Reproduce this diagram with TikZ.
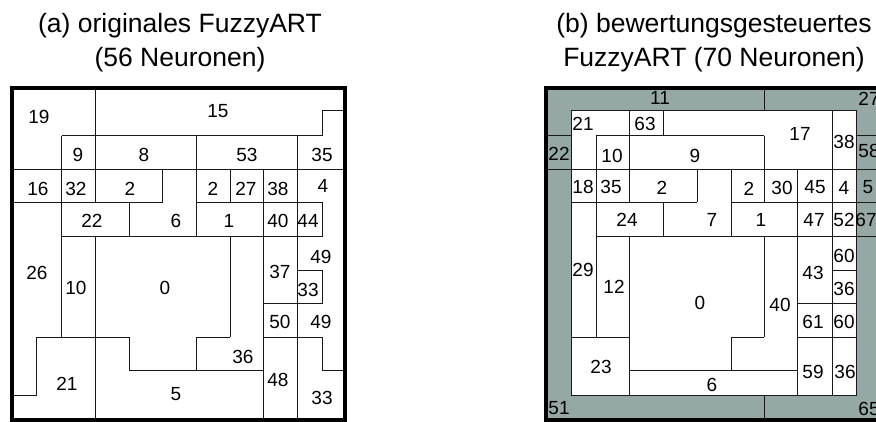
\documentclass[tikz,border=0pt]{standalone}
\usepackage{fontspec}
\setmainfont{Liberation Sans}
\definecolor{ringgray}{RGB}{150,168,165}
\begin{document}
\begin{tikzpicture}[x=1pt,y=-1pt,
  cellline/.style={line width=1pt, black!90},
  frame/.style={line width=4pt, black},
  lbl/.style={inner sep=0pt, font=\fontsize{19}{21}\selectfont},
  ttl/.style={inner sep=0pt, anchor=base, font=\fontsize{26.5}{30}\selectfont}]
\useasboundingbox (0,0) rectangle (876,421);
\foreach \i/\xx in {0/11.5,1/36.7,2/61.7,3/95.3,4/129,5/162.7,6/196.7,7/230,8/263.5,9/297.7,10/322.3,11/344.8}{
  \foreach \j/\yy in {0/87.5,1/110.3,2/135.7,3/169,4/202.3,5/236.5,6/270,7/303.5,8/337.3,9/370.7,10/395.7,11/419.5}{
    \coordinate (L\i-\j) at (\xx,\yy);
    \coordinate (R\i-\j) at (\xx+534.3,\yy);
  }
}
% titles
\node[ttl] (ta1) at (180,32.5) {(a) originales FuzzyART};
\node[ttl] (ta2) at (180,66) {(56 Neuronen)};
\node[ttl] (tb1) at (714,32.5) {(b) bewertungsgesteuertes};
\node[ttl] (tb2) at (714,66) {FuzzyART (70 Neuronen)};

% ---------- left panel ----------
\draw[cellline] (L10-1) -- (L11-1);
\draw[cellline] (L2-2) -- (L10-2);
\draw[cellline] (L0-3) -- (L11-3);
\draw[cellline] (L0-4) -- (L5-4) (L6-4) -- (L10-4);
\draw[cellline] (L2-5) -- (L10-5);
\draw[cellline] (L9-6) -- (L10-6);
\draw[cellline] (L8-7) -- (L10-7);
\draw[cellline] (L1-8) -- (L4-8) (L6-8) -- (L7-8) (L8-8) -- (L10-8);
\draw[cellline] (L4-9) -- (L8-9) (L10-9) -- (L11-9);
\draw[cellline] (L0-10) -- (L1-10);
\draw[cellline] (L1-8) -- (L1-10);
\draw[cellline] (L2-2) -- (L2-8);
\draw[cellline] (L3-0) -- (L3-4) (L3-5) -- (L3-11);
\draw[cellline] (L4-4) -- (L4-5) (L4-8) -- (L4-9);
\draw[cellline] (L5-3) -- (L5-4);
\draw[cellline] (L6-2) -- (L6-5) (L6-8) -- (L6-9);
\draw[cellline] (L7-3) -- (L7-4) (L7-5) -- (L7-8);
\draw[cellline] (L8-3) -- (L8-11);
\draw[cellline] (L9-2) -- (L9-11);
\draw[cellline] (L10-1) -- (L10-2) (L10-4) -- (L10-5) (L10-6) -- (L10-7) (L10-8) -- (L10-9);
\draw[frame] (L0-0) rectangle (L11-11);

\node[lbl] (a19) at (39,116.5) {19};
\node[lbl] (a15) at (218,111.5) {15};
\node[lbl] (a9) at (78,155) {9};
\node[lbl] (a8) at (144,155) {8};
\node[lbl] (a53) at (247,155) {53};
\node[lbl] (a35) at (322,155) {35};
\node[lbl] (a16) at (38,188.5) {16};
\node[lbl] (a32) at (76,188.5) {32};
\node[lbl] (a2a) at (130,188.5) {2};
\node[lbl] (a2b) at (213,188.5) {2};
\node[lbl] (a27) at (246,188.5) {27};
\node[lbl] (a38) at (278,188.5) {38};
\node[lbl] (a4) at (323,186) {4};
\node[lbl] (a22) at (92,221) {22};
\node[lbl] (a6) at (176,221) {6};
\node[lbl] (a1) at (229,221) {1};
\node[lbl] (a40) at (278,221) {40};
\node[lbl] (a44) at (308,221) {44};
\node[lbl] (a26) at (37,273) {26};
\node[lbl] (a10) at (76,288) {10};
\node[lbl] (a0) at (165,288) {0};
\node[lbl] (a37) at (280,271.5) {37};
\node[lbl] (a49a) at (321,256.5) {49};
\node[lbl] (a33a) at (308,290) {33};
\node[lbl] (a50) at (280,322) {50};
\node[lbl] (a49b) at (321,322) {49};
\node[lbl] (a36) at (243,356.5) {36};
\node[lbl] (a21) at (67,383.5) {21};
\node[lbl] (a5) at (176,394) {5};
\node[lbl] (a48) at (278,380) {48};
\node[lbl] (a33b) at (322,397.5) {33};

% ---------- right panel ----------
\fill[ringgray] (R0-0) rectangle (R11-11);
\fill[white] (R1-1) rectangle (R10-10);
\draw[cellline] (R1-1) -- (R10-1);
\draw[cellline] (R0-2) -- (R1-2) (R2-2) -- (R7-2) (R10-2) -- (R11-2);
\draw[cellline] (R0-3) -- (R11-3);
\draw[cellline] (R1-4) -- (R5-4) (R6-4) -- (R11-4);
\draw[cellline] (R2-5) -- (R11-5);
\draw[cellline] (R9-6) -- (R10-6);
\draw[cellline] (R8-7) -- (R10-7);
\draw[cellline] (R1-8) -- (R3-8) (R6-8) -- (R7-8) (R8-8) -- (R10-8);
\draw[cellline] (R3-9) -- (R8-9);
\draw[cellline] (R1-10) -- (R10-10);
\draw[cellline] (R7-0) -- (R7-1) (R7-10) -- (R7-11);
\draw[cellline] (R1-1) -- (R1-10);
\draw[cellline] (R2-2) -- (R2-8);
\draw[cellline] (R3-1) -- (R3-4) (R3-5) -- (R3-10);
\draw[cellline] (R4-1) -- (R4-2) (R4-4) -- (R4-5);
\draw[cellline] (R5-3) -- (R5-4);
\draw[cellline] (R6-3) -- (R6-5) (R6-8) -- (R6-9);
\draw[cellline] (R7-2) -- (R7-4) (R7-5) -- (R7-8);
\draw[cellline] (R8-3) -- (R8-10);
\draw[cellline] (R9-1) -- (R9-10);
\draw[cellline] (R10-1) -- (R10-10);
\draw[frame] (R0-0) rectangle (R11-11);

\node[lbl] (b11) at (660,98) {11};
\node[lbl] (b27) at (869,99) {27};
\node[lbl] (b21) at (583,124) {21};
\node[lbl] (b63) at (645,124) {63};
\node[lbl] (b17) at (800,133.5) {17};
\node[lbl] (b38) at (844,141.5) {38};
\node[lbl] (b22) at (559,154) {22};
\node[lbl] (b10) at (612,156) {10};
\node[lbl] (b9) at (695,156) {9};
\node[lbl] (b58) at (869,151) {58};
\node[lbl] (b18) at (583,187) {18};
\node[lbl] (b35) at (611,187) {35};
\node[lbl] (b2a) at (662,188) {2};
\node[lbl] (b2b) at (749,189) {2};
\node[lbl] (b30) at (782,187.5) {30};
\node[lbl] (b45) at (815,187.5) {45};
\node[lbl] (b4) at (844,187.5) {4};
\node[lbl, anchor=west] (b5) at (862.5,187.5) {5};
\node[lbl] (b24) at (627,220) {24};
\node[lbl] (b7) at (712,220) {7};
\node[lbl] (b1) at (761,220) {1};
\node[lbl] (b47) at (814,220) {47};
\node[lbl] (b52) at (844,220) {52};
\node[lbl] (b67) at (866,220) {67};
\node[lbl] (b29) at (583,270) {29};
\node[lbl] (b12) at (614,287) {12};
\node[lbl] (b0) at (700,303) {0};
\node[lbl] (b40) at (780,305) {40};
\node[lbl] (b43) at (813,273) {43};
\node[lbl] (b60a) at (844,256) {60};
\node[lbl] (b36a) at (844,288.5) {36};
\node[lbl] (b61) at (813,321.5) {61};
\node[lbl] (b60b) at (844,321.5) {60};
\node[lbl] (b59) at (813,371.5) {59};
\node[lbl] (b36b) at (845,371.5) {36};
\node[lbl] (b23) at (601,366.5) {23};
\node[lbl] (b6) at (712,385) {6};
\node[lbl] (b51) at (559,408.5) {51};
\node[lbl] (b65) at (869,409) {65};
\end{tikzpicture}
\end{document}
